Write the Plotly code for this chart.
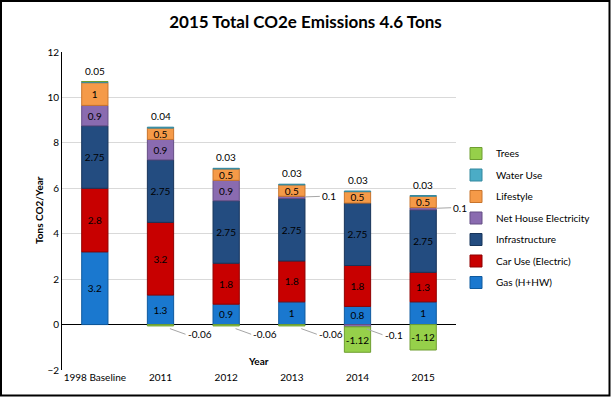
import plotly.graph_objects as go

categories = ["1998 Baseline", "2011", "2012", "2013", "2014", "2015"]
gas = [3.2, 1.3, 0.9, 1, 0.8, 1]
car_use = [2.8, 3.2, 1.8, 1.8, 1.8, 1.3]
infrastructure = [2.75, 2.75, 2.75, 2.75, 2.75, 2.75]
net_house = [0.9, 0.9, 0.9, 0.1, -0.1, 0.1]
lifestyle = [1, 0.5, 0.5, 0.5, 0.5, 0.5]
water_use = [0.05, 0.04, 0.03, 0.03, 0.03, 0.03]
trees = [0, -0.06, -0.06, -0.06, -1.12, -1.12]

series = [
    ("Gas (H+HW)", gas, "#1A78CF", "#0F5A9E"),
    ("Car Use (Electric)", car_use, "#C80000", "#8F0000"),
    ("Infrastructure", infrastructure, "#234C80", "#17345A"),
    ("Net House Electricity", net_house, "#8A6BB0", "#654E85"),
    ("Lifestyle", lifestyle, "#F59A48", "#C8742C"),
    ("Water Use", water_use, "#4BACC6", "#33889F"),
    ("Trees", trees, "#96D04A", "#6E9E30"),
]

FONT = "Lato, 'Open Sans', sans-serif"
W, H = 611, 397
ML, MR, MT, MB = 62, 155, 52, 27
PW, PH = W - ML - MR, H - MT - MB

fig = go.Figure()
annotations = []
pos_cum = [0.0] * len(categories)
neg_cum = [0.0] * len(categories)

for k, (name, vals, col, edge) in enumerate(series):
    texts = []
    for i, v in enumerate(vals):
        if v >= 0:
            base = pos_cum[i]
            pos_cum[i] += v
            mid = base + v / 2
        else:
            base = neg_cum[i]
            neg_cum[i] += v
            mid = base + v / 2
        if abs(v) >= 0.3:
            texts.append(f"{v:g}")
        else:
            texts.append("")
            if v == 0:
                continue
            if name == "Water Use":
                annotations.append(dict(x=i, y=pos_cum[i], text=f"{v:g}",
                                         showarrow=False, yanchor="bottom", yshift=3,
                                         font=dict(size=10, color="black", family=FONT)))
            elif v > 0:
                annotations.append(dict(x=i, y=mid, text=f"{v:g}",
                                         showarrow=True, arrowhead=0, arrowwidth=1,
                                         arrowcolor="#A6A6A6", ax=28, ay=-1, standoff=13,
                                         xanchor="left",
                                         font=dict(size=10, color="black", family=FONT)))
            else:
                annotations.append(dict(x=i, y=mid, text=f"{v:g}",
                                         showarrow=True, arrowhead=0, arrowwidth=1,
                                         arrowcolor="#A6A6A6", ax=25, ay=9, standoff=10,
                                         xanchor="left",
                                         font=dict(size=10, color="black", family=FONT)))
    fig.add_trace(go.Bar(
        x=categories, y=vals, name=name, legendgroup=name,
        legendrank=1000 - k,
        marker=dict(color=col, line=dict(color=edge, width=1)),
        text=texts, textposition="inside", insidetextanchor="middle",
        textangle=0, constraintext="none",
        textfont=dict(size=10, color="black", family=FONT),
    ))

# axis titles and frame
annotations.append(dict(xref="paper", yref="y", x=(258 - ML) / PW, y=-1.62, text="<b>Year</b>",
                        showarrow=False, font=dict(size=10, color="black", family=FONT)))
annotations.append(dict(xref="paper", yref="paper", x=(31 - ML) / PW, y=(H - MB - 210) / PH,
                        text="<b>Tons CO2/Year</b>", textangle=-90, showarrow=False,
                        font=dict(size=10, color="black", family=FONT)))

fig.update_layout(
    width=W, height=H,
    margin=dict(l=ML, r=MR, t=MT, b=MB),
    paper_bgcolor="white", plot_bgcolor="white",
    barmode="relative", bargap=0.6,
    title=dict(text="<b>2015 Total CO2e Emissions 4.6 Tons</b>", x=0.5, xanchor="center",
               y=1 - 22 / H, yanchor="middle",
               font=dict(size=17, color="black", family=FONT)),
    font=dict(family=FONT, size=10, color="black"),
    showlegend=True,
    legend=dict(x=(456 - ML) / PW, y=(H - MB - 139) / PH, xanchor="left", yanchor="top",
                traceorder="grouped", tracegroupgap=2.5,
                font=dict(size=10, color="black", family=FONT),
                bgcolor="rgba(0,0,0,0)", itemwidth=30),
    xaxis=dict(type="category", categoryorder="array", categoryarray=categories,
               range=[-0.5, len(categories) - 0.5], showline=False, ticks="",
               tickfont=dict(size=10, family=FONT, color="black")),
    yaxis=dict(range=[-2, 12], dtick=2, showgrid=True, gridcolor="#D9D9D9", gridwidth=1,
               zeroline=True, zerolinecolor="black", zerolinewidth=1,
               showline=True, linecolor="black", linewidth=1, ticks="",
               tickfont=dict(size=10, family=FONT, color="black")),
    annotations=annotations,
    shapes=[dict(type="rect", xref="paper", yref="paper",
                 x0=(1 - ML) / PW, x1=(W - 1.5 - ML) / PW,
                 y0=-(MB - 1.5) / PH, y1=(H - MB - 1) / PH,
                 line=dict(color="black", width=2), fillcolor="rgba(0,0,0,0)")],
)

fig.write_html("out.html", config={"displayModeBar": False},
               post_script="document.body.style.margin='0';")
